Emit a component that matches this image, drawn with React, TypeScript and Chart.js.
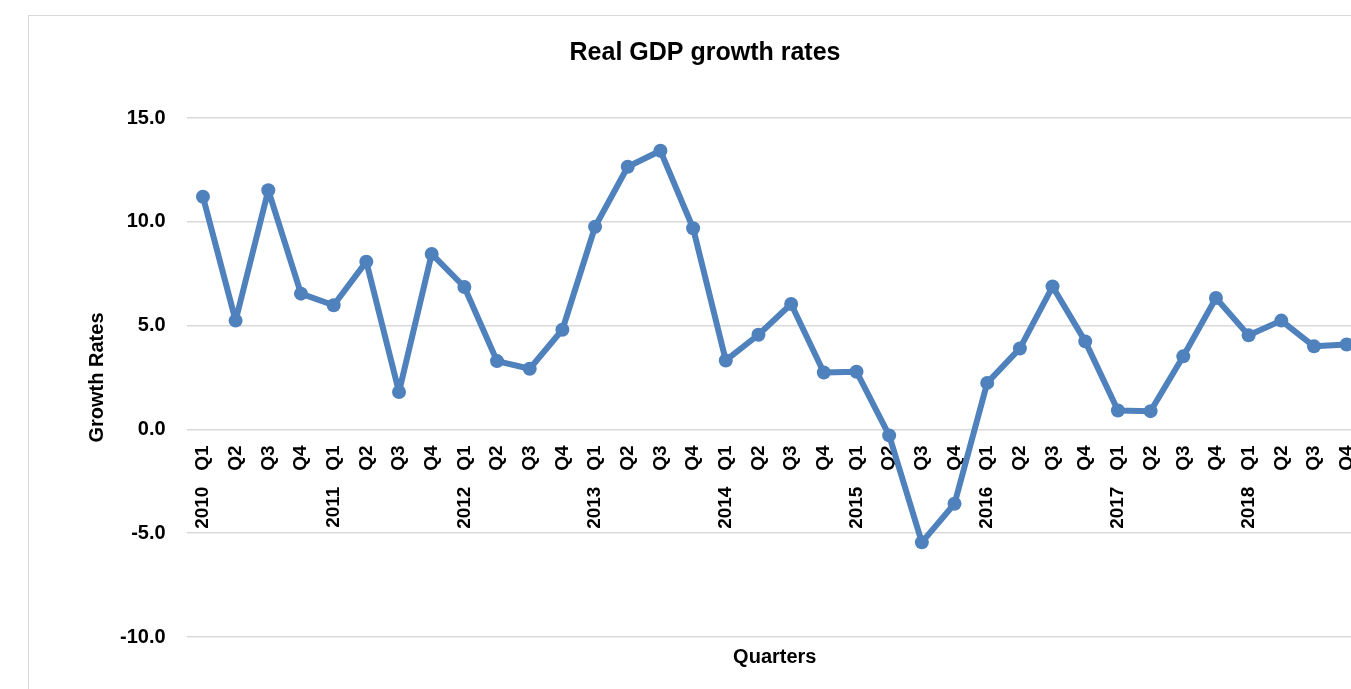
import React, { useEffect, useRef } from "react";
import { Chart, registerables } from "chart.js";

Chart.register(...registerables);

const categories = [
  "2010 Q1", "Q2", "Q3", "Q4",
  "2011 Q1", "Q2", "Q3", "Q4",
  "2012 Q1", "Q2", "Q3", "Q4",
  "2013 Q1", "Q2", "Q3", "Q4",
  "2014 Q1", "Q2", "Q3", "Q4",
  "2015 Q1", "Q2", "Q3", "Q4",
  "2016 Q1", "Q2", "Q3", "Q4",
  "2017 Q1", "Q2", "Q3", "Q4",
  "2018 Q1", "Q2", "Q3", "Q4",
];

const growthRates = [
  11.21, 5.24, 11.52, 6.54,
  5.98, 8.08, 1.8, 8.45,
  6.86, 3.29, 2.92, 4.8,
  9.76, 12.65, 13.42, 9.69,
  3.32, 4.56, 6.04, 2.74,
  2.78, -0.29, -5.44, -3.58,
  2.24, 3.9, 6.88, 4.24,
  0.91, 0.88, 3.52, 6.33,
  4.53, 5.24, 4.0, 4.09,
];

const yMin = -10;
const yMax = 15;
const yStep = 5;

const chartTitle = "Real GDP growth rates";
const xTitle = "Quarters";
const yTitle = "Growth Rates";

const FONT = "'Liberation Sans', Arial, sans-serif";

export default function App() {
  const canvasRef = useRef<HTMLCanvasElement | null>(null);

  useEffect(() => {
    if (!canvasRef.current) return;
    const chart = new Chart(canvasRef.current, {
      type: "line",
      data: {
        labels: categories,
        datasets: [
          {
            label: "Growth Rates",
            data: growthRates,
            borderColor: "#4f81bd",
            backgroundColor: "#4f81bd",
            borderWidth: 6,
            borderJoinStyle: "round",
            borderCapStyle: "round",
            pointRadius: 7,
            pointBorderWidth: 0,
            pointBackgroundColor: "#4f81bd",
            tension: 0,
          },
        ],
      },
      options: {
        responsive: false,
        animation: false,
        layout: { padding: { left: 18, right: 16, top: 0, bottom: 0 } },
        plugins: {
          legend: { display: false },
          tooltip: { enabled: false },
          title: {
            display: true,
            text: chartTitle,
            color: "#000",
            font: { family: FONT, size: 25, weight: "bold" },
            padding: { top: 22, bottom: 50 },
          },
          subtitle: {
            display: true,
            text: xTitle,
            position: "bottom",
            fullSize: false,
            color: "#000",
            font: { family: FONT, size: 20, weight: "bold" },
            padding: { top: 8, bottom: 37 },
          },
        },
        scales: {
          x: {
            type: "category",
            position: { y: 0 } as any,
            offset: true,
            afterFit: (s: any) => {
              s.paddingLeft = 0;
              s.paddingRight = 0;
            },
            grid: { display: false, drawTicks: false },
            border: { display: false },
            ticks: {
              autoSkip: false,
              maxRotation: 90,
              minRotation: 90,
              padding: 16,
              color: "#000",
              font: { family: FONT, size: 19, weight: "bold" },
              callback: (_v: any, i: number) => categories[i].replace(" ", "   "),
            },
          },
          y: {
            min: yMin,
            max: yMax,
            afterFit: (s: any) => {
              s.width = 139.6;
            },
            grid: { color: "#d9d9d9", lineWidth: 1.5, drawTicks: false },
            border: { display: false },
            ticks: {
              stepSize: yStep,
              padding: 21,
              color: "#000",
              font: { family: FONT, size: 20, weight: "bold" },
              callback: (v: any) => Number(v).toFixed(1),
            },
            title: {
              display: true,
              text: yTitle,
              color: "#000",
              font: { family: FONT, size: 20, weight: "bold" },
              padding: { top: 38, bottom: 0 },
            },
          },
        },
      },
    });
    return () => chart.destroy();
  }, []);

  return (
    <div
      style={{
        position: "fixed",
        left: 0,
        top: 0,
        width: 1351,
        height: 689,
        overflow: "hidden",
        background: "#fff",
      }}
    >
      <div
        style={{
          position: "absolute",
          left: 28,
          top: 15,
          width: 1352,
          height: 692,
          border: "1px solid #d9d9d9",
          boxSizing: "border-box",
          background: "#fff",
        }}
      >
        <canvas ref={canvasRef} width={1350} height={690} style={{ display: "block" }} />
      </div>
    </div>
  );
}
